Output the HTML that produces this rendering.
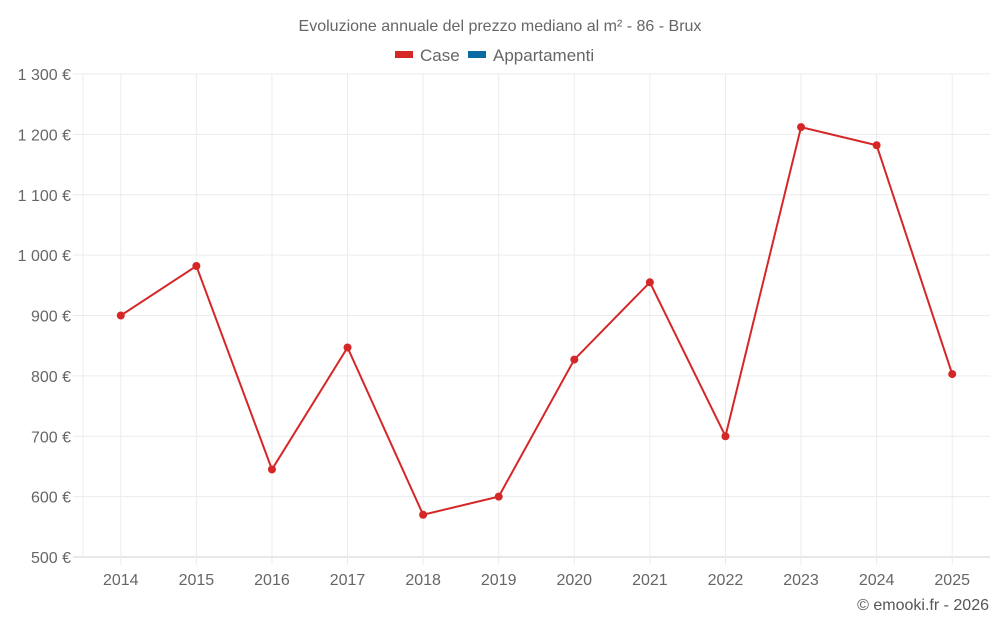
<!DOCTYPE html>
<html><head><meta charset="utf-8"><style>
body{margin:0;background:#fff;font-family:"Liberation Sans",sans-serif;}
svg text{font-family:"Liberation Sans",sans-serif;}
</style></head><body>
<svg id="chart" width="1000" height="625" xmlns="http://www.w3.org/2000/svg">
<text x="500" y="31" text-anchor="middle" font-size="16" fill="#666">Evoluzione annuale del prezzo mediano al m² - 86 - Brux</text>
<g><rect x="395" y="51" width="18" height="7" fill="#d62728"/><text x="420" y="61" font-size="17" fill="#666">Case</text></g>
<g><rect x="468" y="51" width="18" height="7" fill="#0b6aa2"/><text x="493" y="61" font-size="17" fill="#666">Appartamenti</text></g>
<g id="grid"></g><g id="yaxis"></g><g id="xaxis"></g><g id="series"></g>
<text x="989" y="610" text-anchor="end" font-size="16" fill="#555">© emooki.fr - 2026</text>
</svg>
<script>
const categories=["2014","2015","2016","2017","2018","2019","2020","2021","2022","2023","2024","2025"];
const caseValues=[900,982,645,847,570,600,827,955,700,1212,1182,803];
const yTicks=[500,600,700,800,900,1000,1100,1200,1300];
const yTickLabels=["500 €","600 €","700 €","800 €","900 €","1 000 €","1 100 €","1 200 €","1 300 €"];
const L=83,R=990,T=74,B=557,yMin=500,yMax=1300;
const NS="http://www.w3.org/2000/svg";
const bw=(R-L)/categories.length;
function x(i){return L+bw*(i+0.5);}
function y(v){return B-(v-yMin)/(yMax-yMin)*(B-T);}
function mk(t,a,p){const e=document.createElementNS(NS,t);for(const k in a)e.setAttribute(k,a[k]);p.appendChild(e);return e;}
const grid=document.getElementById('grid'),ya=document.getElementById('yaxis'),xa=document.getElementById('xaxis'),s=document.getElementById('series');
yTicks.forEach((v,i)=>{
 const l=mk('line',{x1:L-10,x2:R,y1:y(v),y2:y(v),stroke:i==0?'#d0d0d0':'#ececec'},grid);
 
 
 const t=mk('text',{x:L-12,y:y(v)+6,'text-anchor':'end','font-size':16,fill:'#666'},ya);
 t.textContent=yTickLabels[i];
 
 
});
const lb=mk('line',{x1:L,x2:L,y1:T,y2:B,stroke:'#ececec'},grid);


categories.forEach((c,i)=>{
 const l=mk('line',{x1:x(i),x2:x(i),y1:T,y2:B+8,stroke:'#ececec'},grid);
 
 
 const t=mk('text',{x:x(i),y:585,'text-anchor':'middle','font-size':16,fill:'#666'},xa);
 t.textContent=c;
 
 
});
const pl=mk('polyline',{points:caseValues.map((v,i)=>x(i)+','+y(v)).join(' '),fill:'none',stroke:'#d62728','stroke-width':2},s);


caseValues.forEach((v,i)=>{
 const c=mk('circle',{cx:x(i),cy:y(v),r:4,fill:'#d62728'},s);
 
 
});
</script>
</body></html>
